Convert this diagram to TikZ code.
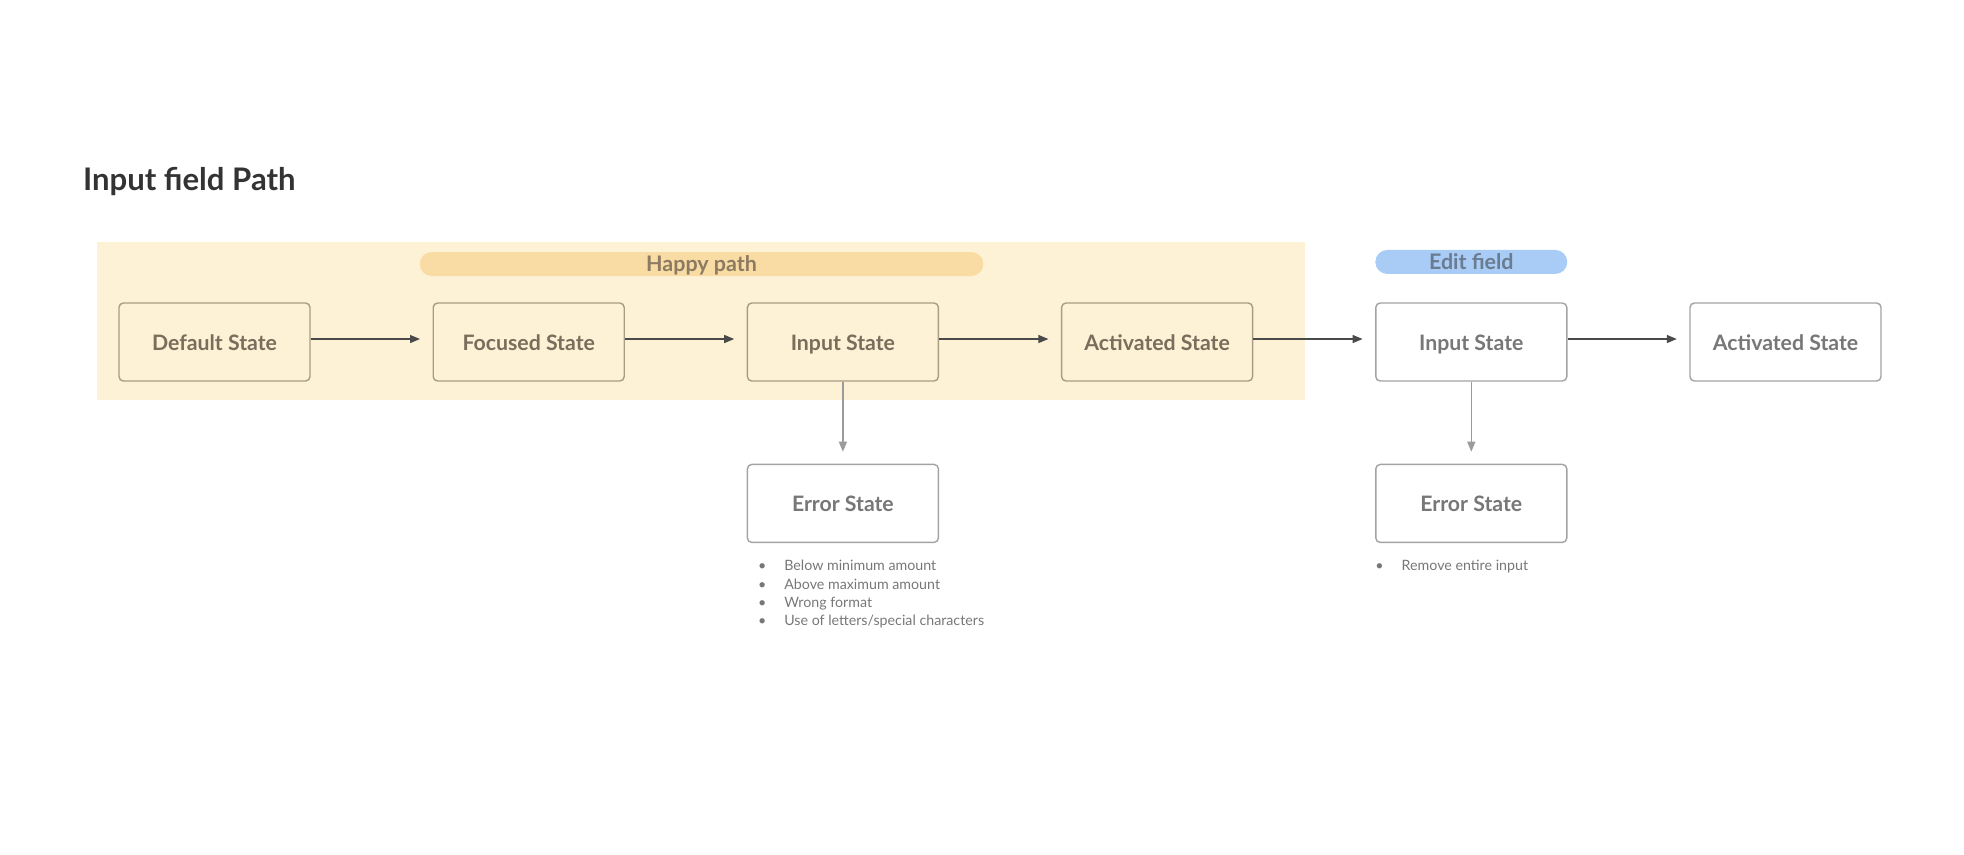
\documentclass[tikz,border=0pt]{standalone}
\usepackage{fontspec}
\setmainfont{Lato}
\usetikzlibrary{positioning, arrows.meta}

\definecolor{happybg}{HTML}{FDF1D6}
\definecolor{happypill}{HTML}{F9DCA3}
\definecolor{happyline}{HTML}{A89C84}
\definecolor{happytxt}{HTML}{7A6D5C}
\definecolor{pilltxt}{HTML}{8C7A62}
\definecolor{editpill}{HTML}{A8CCF6}
\definecolor{edittxt}{HTML}{6B7C91}
\definecolor{plainline}{HTML}{A3A3A3}
\definecolor{plaintxt}{HTML}{777777}
\definecolor{flowcol}{HTML}{4A4A4A}
\definecolor{dropcol}{HTML}{9B9B9B}
\definecolor{titlecol}{HTML}{333333}

\begin{document}
\begin{tikzpicture}[node distance=6.284cm,
	box/.style={draw, rounded corners=2.5pt, line width=0.8pt, minimum width=3.82cm, minimum height=1.56cm, text height=0.95em, text depth=0.02em, font=\bfseries\fontsize{12.1}{14}\selectfont},
	happy/.style={box, draw=happyline, fill=happybg, text=happytxt},
	plain/.style={box, draw=plainline, fill=white, text=plaintxt},
	pill/.style={rounded corners=0.24cm, minimum height=0.48cm, inner sep=0pt, text height=0.92em, text depth=0.02em, font=\bfseries\fontsize{12.2}{14}\selectfont},
	flow/.style={draw=flowcol, line width=0.7pt, -{Triangle[length=0.2cm, width=0.16cm]}, shorten >=0.25cm},
	drop/.style={draw=dropcol, line width=0.7pt, -{Triangle[length=0.2cm, width=0.16cm]}, shorten >=0.24cm},
	notes/.style={align=left, inner sep=0pt, text=plaintxt, font=\fontsize{8.1}{10.3}\selectfont}]
	\useasboundingbox (0,0) rectangle (39.28,-17.08);
	
	\node[anchor=base west, inner sep=0pt, text=titlecol, font=\bfseries\fontsize{17.7}{20}\selectfont] (ttl) at (1.654,-3.8) {Input field Path};
	
	\fill[happybg] (1.93,-4.84) rectangle (26.1,-7.99);
	\node[pill, fill=happypill, text=pilltxt, minimum width=11.27cm] (happylbl) at (14.03,-5.28) {Happy path};
	
	\node[happy] (dflt) at (4.29,-6.84) {Default State};
	\node[happy, right of=dflt] (focus) {Focused State};
	\node[happy, right of=focus] (inp) {Input State};
	\node[happy, right of=inp] (act) {Activated State};
	\node[plain, right of=act] (inp2) {Input State};
	\node[plain, right of=inp2] (act2) {Activated State};
	\node[plain, below=1.64cm of inp] (err) {Error State};
	\node[plain, below=1.64cm of inp2] (err2) {Error State};
	
	\node[pill, fill=editpill, text=edittxt, minimum width=3.84cm, above=0.56cm of inp2] (editlbl) {Edit field};
	
	\node[notes, below right=0.34cm and 0.22cm of err.south west] (errnotes) {\textbullet\hspace{0.36cm}Below minimum amount\\
		\textbullet\hspace{0.36cm}Above maximum amount\\
		\textbullet\hspace{0.36cm}Wrong format\\
		\textbullet\hspace{0.36cm}Use of letters/special characters};
	\node[notes, below right=0.34cm and 0.0cm of err2.south west] (err2notes) {\textbullet\hspace{0.36cm}Remove entire input};
	
	\draw
	([yshift=1.7pt]dflt.east) edge[flow] ([yshift=1.7pt]focus.west)
	([yshift=1.7pt]focus.east) edge[flow] ([yshift=1.7pt]inp.west)
	([yshift=1.7pt]inp.east) edge[flow] ([yshift=1.7pt]act.west)
	([yshift=1.7pt]act.east) edge[flow] ([yshift=1.7pt]inp2.west)
	([yshift=1.7pt]inp2.east) edge[flow] ([yshift=1.7pt]act2.west)
	(inp) edge[drop] (err)
	(inp2) edge[drop] (err2);
\end{tikzpicture}
\end{document}
